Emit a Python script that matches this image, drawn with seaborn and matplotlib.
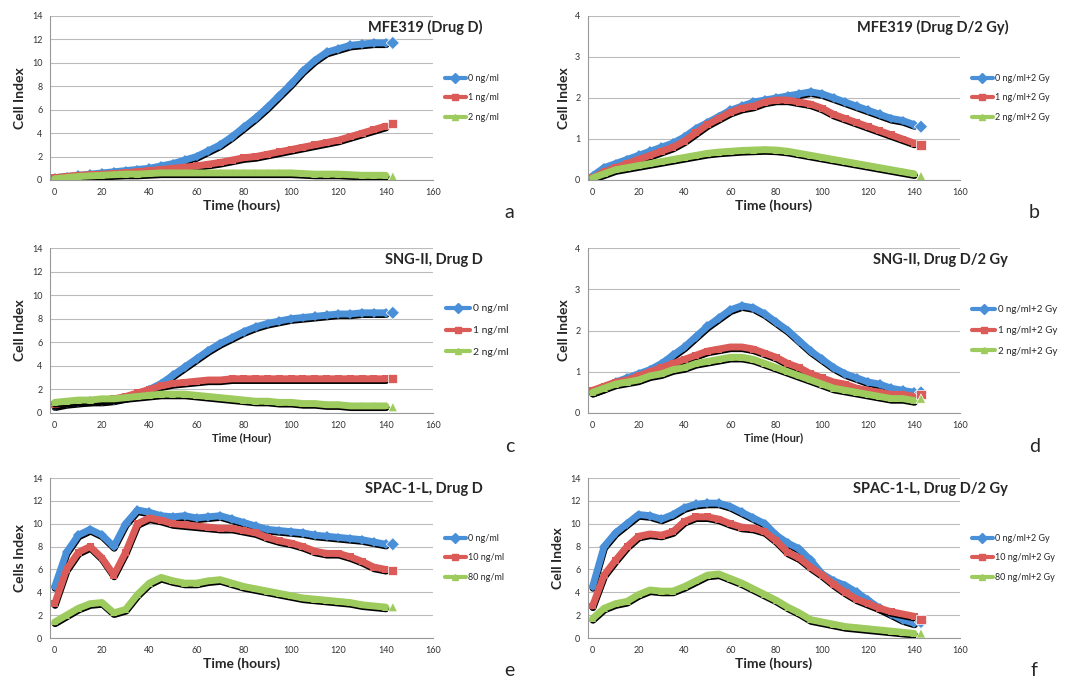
"""
plot.py
Six-panel cell index time courses (xCELLigence style).
"""

import numpy as np
import pandas as pd
import matplotlib
matplotlib.use("Agg")
import matplotlib.pyplot as plt
import matplotlib.patheffects as pe
import seaborn as sns

# ---------------------------------------------------------------------------
# Data (every 5 hours from 0 to 140)
# ---------------------------------------------------------------------------
hours = list(range(0, 145, 5))
end_hour = 143

a_0 = [0.2, 0.3, 0.4, 0.5, 0.6, 0.7, 0.8, 0.9, 1.0, 1.2, 1.4, 1.7, 2.0, 2.5, 3.0, 3.7, 4.5, 5.3, 6.2, 7.2, 8.2, 9.3, 10.2, 10.9, 11.2, 11.5, 11.6, 11.7, 11.7]
a_1 = [0.2, 0.3, 0.4, 0.45, 0.5, 0.55, 0.6, 0.7, 0.8, 0.9, 1.0, 1.1, 1.2, 1.35, 1.5, 1.7, 1.9, 2.0, 2.2, 2.4, 2.6, 2.8, 3.0, 3.2, 3.4, 3.7, 4.0, 4.3, 4.6]
a_2 = [0.1, 0.2, 0.3, 0.35, 0.4, 0.45, 0.5, 0.5, 0.55, 0.6, 0.6, 0.6, 0.6, 0.6, 0.6, 0.6, 0.6, 0.6, 0.6, 0.6, 0.6, 0.55, 0.5, 0.5, 0.5, 0.45, 0.4, 0.4, 0.4]
a_end = [11.7, 4.8, 0.3]

b_0 = [0.1, 0.3, 0.4, 0.5, 0.6, 0.7, 0.8, 0.9, 1.05, 1.25, 1.4, 1.55, 1.7, 1.8, 1.9, 1.95, 2.0, 2.05, 2.1, 2.15, 2.1, 2.0, 1.9, 1.8, 1.7, 1.6, 1.5, 1.45, 1.35]
b_1 = [0.05, 0.2, 0.3, 0.4, 0.5, 0.6, 0.7, 0.8, 0.95, 1.15, 1.35, 1.5, 1.65, 1.75, 1.8, 1.9, 1.95, 1.95, 1.9, 1.85, 1.75, 1.6, 1.5, 1.4, 1.3, 1.2, 1.1, 1.0, 0.9]
b_2 = [0.05, 0.15, 0.25, 0.3, 0.35, 0.4, 0.45, 0.5, 0.55, 0.6, 0.65, 0.68, 0.7, 0.72, 0.73, 0.74, 0.73, 0.7, 0.65, 0.6, 0.55, 0.5, 0.45, 0.4, 0.35, 0.3, 0.25, 0.2, 0.15]
b_end = [1.3, 0.85, 0.1]

c_0 = [0.6, 0.8, 0.9, 1.0, 1.0, 1.1, 1.3, 1.6, 2.0, 2.5, 3.2, 3.9, 4.6, 5.3, 5.9, 6.4, 6.9, 7.3, 7.6, 7.8, 8.0, 8.1, 8.2, 8.3, 8.4, 8.4, 8.5, 8.5, 8.5]
c_1 = [0.7, 0.9, 1.0, 1.0, 1.1, 1.2, 1.4, 1.7, 2.0, 2.3, 2.5, 2.6, 2.7, 2.8, 2.8, 2.9, 2.9, 2.9, 2.9, 2.9, 2.9, 2.9, 2.9, 2.9, 2.9, 2.9, 2.9, 2.9, 2.9]
c_2 = [0.9, 1.0, 1.1, 1.1, 1.2, 1.2, 1.3, 1.4, 1.5, 1.6, 1.6, 1.6, 1.5, 1.4, 1.3, 1.2, 1.1, 1.0, 1.0, 0.9, 0.9, 0.8, 0.8, 0.7, 0.7, 0.6, 0.6, 0.6, 0.6]
c_end = [8.5, 2.9, 0.5]

d_0 = [0.5, 0.6, 0.75, 0.85, 0.95, 1.05, 1.2, 1.4, 1.6, 1.85, 2.1, 2.3, 2.5, 2.6, 2.55, 2.4, 2.2, 2.0, 1.75, 1.5, 1.3, 1.1, 0.95, 0.85, 0.75, 0.7, 0.6, 0.55, 0.5]
d_1 = [0.55, 0.65, 0.75, 0.8, 0.9, 1.0, 1.1, 1.2, 1.3, 1.4, 1.5, 1.55, 1.6, 1.6, 1.55, 1.45, 1.35, 1.2, 1.1, 0.95, 0.85, 0.75, 0.7, 0.6, 0.55, 0.5, 0.45, 0.45, 0.4]
d_2 = [0.5, 0.6, 0.7, 0.75, 0.8, 0.9, 0.95, 1.05, 1.1, 1.2, 1.25, 1.3, 1.35, 1.35, 1.3, 1.2, 1.1, 1.0, 0.9, 0.8, 0.7, 0.6, 0.55, 0.5, 0.45, 0.4, 0.35, 0.35, 0.3]
d_end = [0.5, 0.45, 0.35]

e_0 = [4.5, 7.5, 9.0, 9.5, 9.0, 8.0, 10.0, 11.2, 11.0, 10.7, 10.6, 10.7, 10.5, 10.6, 10.7, 10.4, 10.1, 9.8, 9.5, 9.4, 9.3, 9.2, 9.0, 8.9, 8.8, 8.7, 8.6, 8.4, 8.2]
e_1 = [3.0, 6.0, 7.5, 8.0, 7.0, 5.5, 7.5, 10.0, 10.5, 10.3, 10.0, 9.9, 9.8, 9.7, 9.6, 9.6, 9.4, 9.2, 8.8, 8.5, 8.3, 8.0, 7.6, 7.4, 7.4, 7.1, 6.7, 6.2, 6.0]
e_2 = [1.4, 2.0, 2.6, 3.0, 3.1, 2.2, 2.5, 3.8, 4.8, 5.3, 5.0, 4.8, 4.8, 5.0, 5.1, 4.8, 4.5, 4.3, 4.1, 3.9, 3.7, 3.5, 3.4, 3.3, 3.2, 3.1, 2.9, 2.8, 2.7]
e_end = [8.2, 5.9, 2.7]

f_0 = [4.5, 8.0, 9.2, 10.0, 10.8, 10.7, 10.4, 10.8, 11.4, 11.7, 11.8, 11.8, 11.5, 11.0, 10.5, 10.0, 9.0, 8.3, 7.8, 6.8, 5.6, 5.0, 4.6, 4.0, 3.3, 2.6, 2.1, 1.6, 1.3]
f_1 = [2.8, 5.5, 6.8, 8.0, 8.9, 9.1, 9.0, 9.3, 10.2, 10.6, 10.6, 10.4, 10.0, 9.7, 9.6, 9.3, 8.5, 7.5, 7.0, 6.2, 5.5, 4.7, 4.0, 3.4, 3.0, 2.6, 2.3, 2.1, 1.9]
f_2 = [1.7, 2.6, 3.0, 3.2, 3.8, 4.2, 4.1, 4.1, 4.5, 5.0, 5.5, 5.6, 5.2, 4.8, 4.3, 3.8, 3.3, 2.7, 2.2, 1.6, 1.4, 1.2, 1.0, 0.9, 0.8, 0.7, 0.6, 0.5, 0.4]
f_end = [1.4, 1.6, 0.4]

labels_drug = ["0 ng/ml", "1 ng/ml", "2 ng/ml"]
labels_drug_gy = ["0 ng/ml+2 Gy", "1 ng/ml+2 Gy", "2 ng/ml+2 Gy"]
labels_spac = ["0 ng/ml", "10 ng/ml", "80 ng/ml"]
labels_spac_gy = ["0 ng/ml+2 Gy", "10 ng/ml+2 Gy", "80 ng/ml+2 Gy"]

COLORS = ["#4A90D9", "#DA5B57", "#9DCB5E"]
MARKERS = ["D", "s", "^"]

# (series, end points, labels, title, ylabel, xlabel, ymax, letter, legend fontsize)
panels = [
    ([a_0, a_1, a_2], a_end, labels_drug, "MFE319 (Drug D)", "Cell Index", "Time (hours)", 14, "a", 6.5),
    ([b_0, b_1, b_2], b_end, labels_drug_gy, "MFE319 (Drug D/2 Gy)", "Cell Index", "Time (hours)", 4, "b", 6.5),
    ([c_0, c_1, c_2], c_end, labels_drug, "SNG-II, Drug D", "Cell Index", "Time (Hour)", 14, "c", 7.5),
    ([d_0, d_1, d_2], d_end, labels_drug_gy, "SNG-II, Drug D/2 Gy", "Cell Index", "Time (Hour)", 4, "d", 7),
    ([e_0, e_1, e_2], e_end, labels_spac, "SPAC-1-L, Drug D", "Cells Index", "Time (hours)", 14, "e", 6.5),
    ([f_0, f_1, f_2], f_end, labels_spac_gy, "SPAC-1-L, Drug D/2 Gy", "Cell Index", "Time (hours)", 14, "f", 6.5),
]

# ---------------------------------------------------------------------------
# Figure
# ---------------------------------------------------------------------------
sns.set_style("white")
plt.rcParams["font.family"] = ["Lato", "DejaVu Sans"]

W, H = 1067, 677
fig = plt.figure(figsize=(W / 100, H / 100), dpi=100)

rows_px = [(16, 180), (248, 413), (478, 638)]
cols_px = [(50, 433), (588, 960)]

shadow = [pe.SimpleLineShadow(offset=(0.3, -1.2), shadow_color="black", alpha=1.0, rho=0.0), pe.Normal()]

for i, (series, ends, labels, title, ylabel, xlabel, ymax, letter, lfs) in enumerate(panels):
    r, c = divmod(i, 2)
    x0, x1 = cols_px[c]
    y0, y1 = rows_px[r]
    ax = fig.add_axes([x0 / W, 1 - y1 / H, (x1 - x0) / W, (y1 - y0) / H])

    df = pd.DataFrame({
        "hours": hours * 3,
        "value": sum(series, []),
        "group": [lab for lab in labels for _ in hours],
    })
    sns.lineplot(data=df, x="hours", y="value", hue="group", style="group",
                 palette=COLORS, markers=MARKERS, dashes=False, hue_order=labels,
                 style_order=labels, linewidth=5, markersize=5, markeredgewidth=0,
                 ax=ax, legend=False, path_effects=shadow)
    ends_df = pd.DataFrame({"hours": [end_hour] * 3, "value": ends, "group": labels})
    sns.scatterplot(data=ends_df, x="hours", y="value", hue="group", style="group",
                    palette=COLORS, markers=MARKERS, hue_order=labels, style_order=labels,
                    s=45, edgecolor="white", linewidth=0.5, ax=ax, legend=False, zorder=5)

    ax.set_xlim(-2, 160)
    ax.set_ylim(0, ymax)
    ax.set_xticks(range(0, 161, 20))
    ax.set_yticks(range(0, ymax + 1, 2 if ymax > 4 else 1))
    ax.tick_params(labelsize=6.5, colors="#333333", length=2)
    ax.yaxis.grid(True, color="#BBBBBB", linewidth=0.8)
    ax.set_axisbelow(True)
    for side in ["top", "right"]:
        ax.spines[side].set_visible(False)
    for side in ["left", "bottom"]:
        ax.spines[side].set_color("#999999")
    ax.set_ylabel(ylabel, fontsize=10, fontweight="bold")
    ax.set_xlabel(xlabel, fontsize=10 if "hours" in xlabel else 8, fontweight="bold", labelpad=2)
    ax.text(1.13, 0.93, title, transform=ax.transAxes, ha="right", va="center",
            fontsize=10.5, fontweight="bold")
    ax.text(1.2, -0.2, letter, transform=ax.transAxes, ha="center", va="center", fontsize=14)

    handles = [plt.Line2D([], [], color=COLORS[k], marker=MARKERS[k], lw=3, markersize=5)
               for k in range(3)]
    ax.legend(handles, labels, loc="center left", bbox_to_anchor=(1.01, 0.5),
              frameon=False, fontsize=lfs, handlelength=2.3, handletextpad=0.3,
              labelspacing=1.2)

fig.savefig("out.png", dpi=100)
